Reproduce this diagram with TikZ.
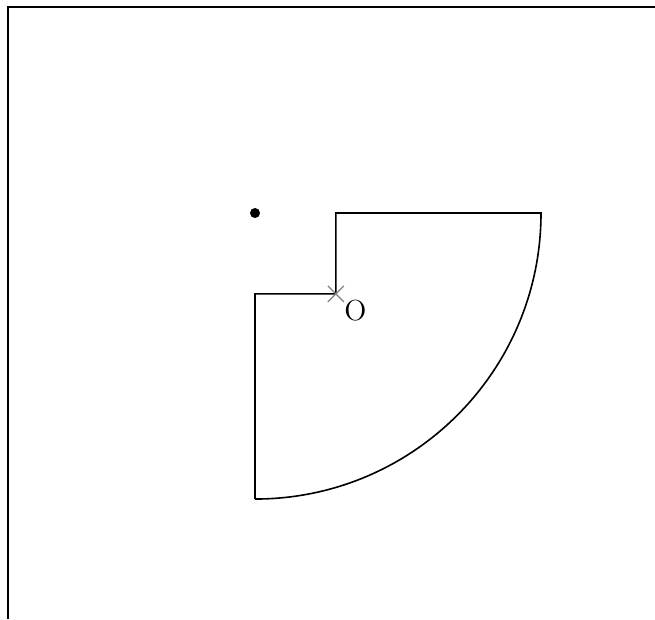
\documentclass[tikz,border=0pt]{standalone}
\usepackage{amsmath}
\usepackage{xcolor}
\usepackage{tikz}

\begin{document}
\begin{tikzpicture}[scale=1]
\useasboundingbox (-4.458,-7.098) rectangle (6.993,3.724);
% Frame
\draw[line width=1pt] (-4.318,-7.098) -- (-4.318,3.601) -- (6.993,3.601);

% Centre and point O
\coordinate (C) at (0,0);
\coordinate (O) at (-45:2);
\fill (C) circle (2.5pt);

% Quarter disc with the corner cut out
\draw[thick] (0,-5) -- (0,-1.414) -- (O) -- (1.414,0) -- (5,0) arc (0:-90:5);

% Cross at O
\draw[gray, semithick] (O) ++(-0.14,-0.14) -- ++(0.28,0.28);
\draw[gray, semithick] (O) ++(-0.14,0.14) -- ++(0.28,-0.28);
\node[anchor=north west, inner sep=3pt, xshift=1pt] (Olab) at (O) {\Large O};
\end{tikzpicture}
\end{document}
